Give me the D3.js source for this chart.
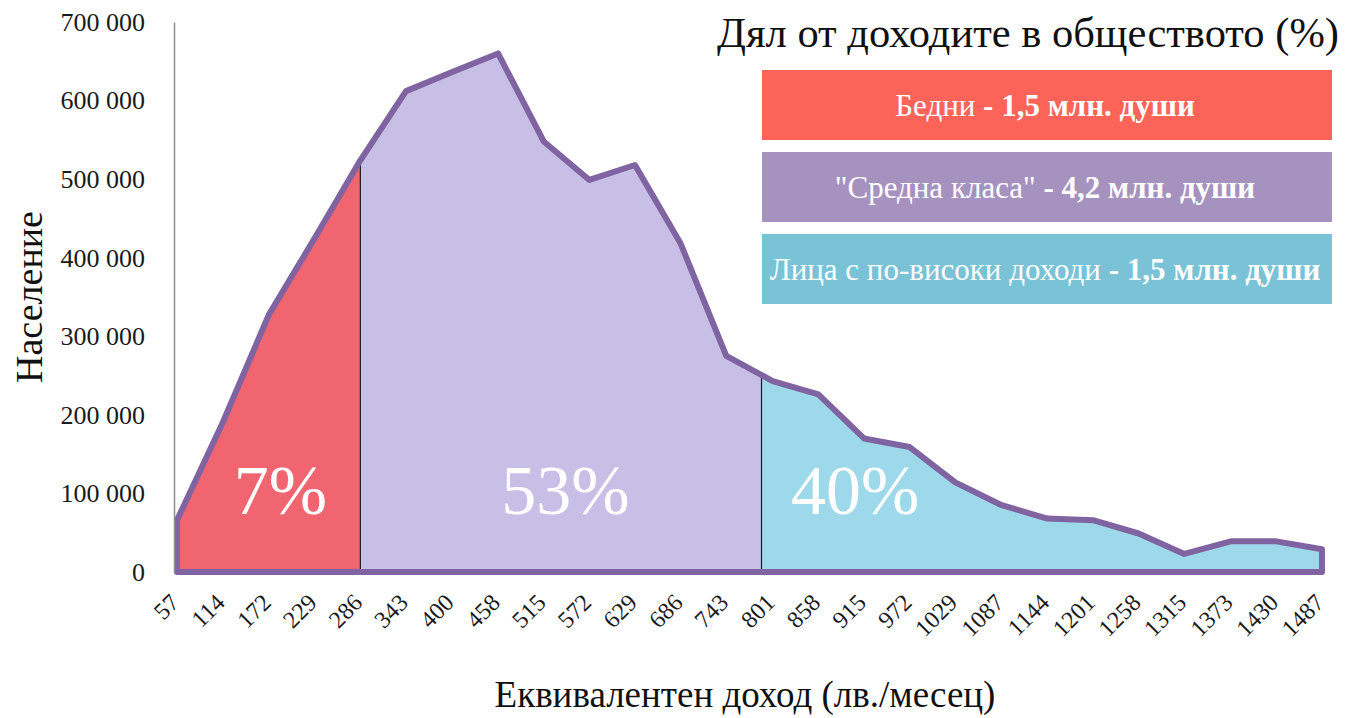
<!DOCTYPE html>
<head>
  <meta charset="utf-8">
  <script src="https://d3js.org/d3.v7.min.js"></script>
  <style>
    body { margin:0; background:#fff; }
    svg { display:block; }
    text { font-family: "Liberation Serif", "DejaVu Serif", serif; }
  </style>
</head>

<body>
  <script>
    // income brackets (лв./месец) and population in each
    var incomes = [57, 114, 172, 229, 286, 343, 400, 458, 515, 572, 629, 686, 743,
                   801, 858, 915, 972, 1029, 1087, 1144, 1201, 1258, 1315, 1373, 1430, 1487];
    var population = [66000, 190000, 328000, 425000, 524000, 612000, 636000, 660000, 548000,
                      499000, 518000, 418000, 275000, 243000, 226000, 170000, 159000, 114000,
                      85000, 68000, 66000, 49000, 23000, 39000, 39000, 29000];
    var yTicks = [0, 100000, 200000, 300000, 400000, 500000, 600000, 700000];

    // income groups
    var groupNames = ["Бедни", "\"Средна класа\"", "Лица с по-високи доходи"];
    var groupPeople = ["- 1,5 млн. души", "- 4,2 млн. души", "- 1,5 млн. души"];
    var groupShare = ["7%", "53%", "40%"];
    var groupBounds = [57, 286, 787, 1487];

    var areaColors = ["#f0656f", "#c7bfe6", "#9dd9ea"];
    var legendColors = ["#fc6459", "#a692bf", "#7ac2d6"];

    var width = 1355, height = 718;
    var svg = d3.select("body").append("svg")
      .attr("width", width)
      .attr("height", height);

    var x = d3.scaleLinear().domain([57, 1487]).range([177, 1322]);
    var y = d3.scaleLinear().domain([0, 700000]).range([572, 22]);
    // value of the curve between brackets
    var curveAt = d3.scaleLinear().domain(incomes).range(population);

    var data = incomes.map(function(d, i) { return {inc: d, pop: population[i]}; });

    var area = d3.area()
      .x(function(d) { return x(d.inc); })
      .y0(y(0))
      .y1(function(d) { return y(d.pop); });

    // clip each group
    var defs = svg.append("defs");
    groupNames.forEach(function(g, i) {
      defs.append("clipPath").attr("id", "clip" + i)
        .append("rect")
        .attr("x", x(groupBounds[i]))
        .attr("y", 0)
        .attr("width", x(groupBounds[i + 1]) - x(groupBounds[i]))
        .attr("height", height);
    });

    svg.selectAll("path.fill")
      .data(groupNames)
      .enter().append("path")
      .attr("class", "fill")
      .attr("clip-path", function(d, i) { return "url(#clip" + i + ")"; })
      .attr("d", area(data))
      .attr("fill", function(d, i) { return areaColors[i]; });

    // dividers
    svg.selectAll("line.div")
      .data([groupBounds[1], groupBounds[2]])
      .enter().append("line")
      .attr("class", "div")
      .attr("x1", function(d) { return x(d); })
      .attr("x2", function(d) { return x(d); })
      .attr("y1", function(d) { return y(curveAt(d)); })
      .attr("y2", y(0))
      .attr("stroke", "#1a1a1a")
      .attr("stroke-width", 1.2);

    // outline
    svg.append("path")
      .attr("d", area(data) + "Z")
      .attr("fill", "none")
      .attr("stroke", "#8064a2")
      .attr("stroke-width", 6)
      .attr("stroke-linejoin", "round");

    // y axis
    var yAxis = svg.append("g")
      .attr("transform", "translate(174,0)")
      .call(d3.axisLeft(y)
        .tickValues(yTicks)
        .tickSize(0)
        .tickPadding(29)
        .tickFormat(function(d) { return d3.format(",")(d).replace(/,/g, " "); }));
    yAxis.select(".domain").attr("stroke", "#8c8c8c").attr("stroke-width", 1.5);
    yAxis.selectAll("text")
      .style("font-family", "Liberation Serif")
      .style("font-size", "26px")
      .attr("fill", "#1a1a1a");

    // x axis
    var xAxis = svg.append("g")
      .attr("transform", "translate(0,572)")
      .call(d3.axisBottom(x).tickValues(incomes).tickSize(0).tickFormat(function(d) { return d; }));
    xAxis.select(".domain").remove();
    xAxis.selectAll("text")
      .style("font-family", "Liberation Serif")
      .style("font-size", "24px")
      .attr("fill", "#1a1a1a")
      .attr("text-anchor", "end")
      .attr("dy", null)
      .attr("y", 0)
      .attr("transform", "translate(3,32) rotate(-45)");

    // share labels
    var shareAt = [186, 542, 904];
    svg.selectAll("text.share")
      .data(groupShare)
      .enter().append("text")
      .attr("class", "share")
      .attr("x", function(d, i) { return x(shareAt[i]); })
      .attr("y", 514)
      .attr("text-anchor", "middle")
      .attr("fill", "#fff")
      .style("font-size", "70px")
      .text(function(d) { return d; });

    // axis titles
    svg.append("text")
      .attr("transform", "translate(42,297) rotate(-90)")
      .attr("text-anchor", "middle")
      .style("font-size", "38px")
      .attr("fill", "#111")
      .text("Население");

    svg.append("text")
      .attr("x", 745)
      .attr("y", 707)
      .attr("text-anchor", "middle")
      .style("font-size", "37px")
      .attr("fill", "#111")
      .text("Еквивалентен доход (лв./месец)");

    // legend
    svg.append("text")
      .attr("x", 1028)
      .attr("y", 47)
      .attr("text-anchor", "middle")
      .style("font-size", "42.5px")
      .attr("fill", "#111")
      .text("Дял от доходите в обществото (%)");

    var legend = svg.selectAll("g.legend")
      .data(groupNames)
      .enter().append("g")
      .attr("class", "legend")
      .attr("transform", function(d, i) { return "translate(762," + (70 + i * 82) + ")"; });

    legend.append("rect")
      .attr("width", 570)
      .attr("height", 70)
      .attr("fill", function(d, i) { return legendColors[i]; });

    var lt = legend.append("text")
      .attr("x", 283)
      .attr("y", 46)
      .attr("text-anchor", "middle")
      .attr("fill", "#fff")
      .style("font-size", "31px");
    lt.append("tspan").text(function(d) { return d + " "; });
    lt.append("tspan").attr("font-weight", "bold").text(function(d, i) { return groupPeople[i]; });
  </script>
</body>
